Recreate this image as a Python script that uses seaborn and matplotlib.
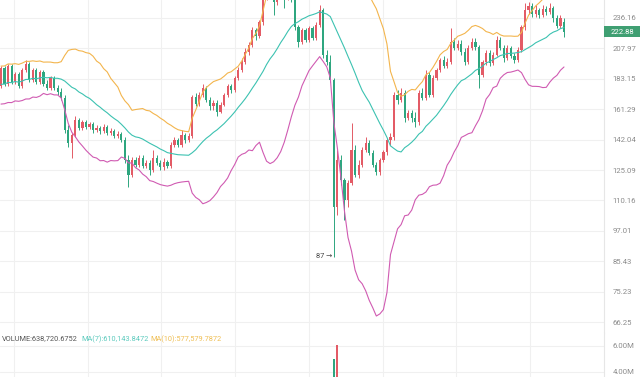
import numpy as np
import pandas as pd
import matplotlib
matplotlib.use("Agg")
import matplotlib.pyplot as plt
from matplotlib.ticker import FixedLocator, NullLocator, NullFormatter
from matplotlib.patches import Rectangle
import seaborn as sns

# ---------------- data ----------------
# closes before the first visible candle (only used to warm up the BOLL(20,2) bands)
pre_close = [176.0, 168.5, 183.2, 171.0, 186.4, 174.2, 170.1, 181.8, 172.5, 188.0,
             175.4, 169.8, 184.6, 177.3, 190.2, 173.6, 182.0, 176.8, 186.5]

opens = [177.8, 191.6, 179.3, 193.3, 180.8, 186.9, 177.8, 190.1, 194.9, 182.3,
         190.1, 180.8, 188.5, 179.3, 176.3, 183.8, 176.3, 173.4, 169.1, 147.9,
         140.1, 144.9, 154.2, 149.2, 153.0, 149.8, 151.7, 147.9, 149.2, 147.3,
         149.8, 146.1, 147.3, 144.3, 145.5, 141.9, 130.5, 122.6, 130.5, 127.8,
         131.6, 127.3, 128.9, 125.2, 131.6, 128.9, 126.7, 129.4, 127.3, 139.0,
         141.9, 139.0, 144.9, 141.9, 144.3, 169.8, 164.9, 171.2, 176.3, 167.7,
         163.5, 165.6, 159.5, 164.2, 171.2, 177.8, 174.8, 183.8, 190.1, 196.5,
         204.9, 211.0, 224.6, 219.0, 232.2, 260.0, 274.5, 265.5, 252.5, 263.3,
         271.1, 260.0, 267.7, 257.8, 227.4, 213.6, 224.6, 215.4, 226.5, 217.2,
         229.3, 244.2, 202.3, 196.5, 182.3, 107.2, 130.5, 120.0, 110.4, 118.6,
         136.1, 122.6, 127.8, 136.1, 140.1, 134.4, 127.8, 124.1, 130.5, 134.9,
         141.9, 143.7, 171.2, 167.7, 172.7, 155.5, 158.8, 155.5, 153.0, 172.7,
         169.1, 186.1, 171.2, 183.8, 190.1, 198.2, 193.3, 196.5, 213.6, 208.3,
         211.8, 204.9, 196.5, 208.3, 213.6, 209.2, 186.1, 196.5, 204.0, 195.7,
         202.3, 215.4, 208.3, 199.8, 208.3, 201.5, 198.2, 206.6, 227.4, 244.2,
         248.3, 240.1, 244.2, 239.1, 245.2, 242.1, 246.2, 236.2, 228.4, 232.2]

highs = [193.3, 193.3, 194.9, 194.9, 188.5, 188.5, 191.6, 198.2, 196.5, 191.6,
         191.6, 190.1, 190.1, 182.3, 185.4, 185.4, 178.5, 176.3, 171.2, 151.1,
         146.1, 156.8, 155.5, 154.2, 154.2, 153.0, 153.0, 151.1, 150.4, 151.7,
         151.1, 149.2, 148.6, 147.3, 146.7, 143.7, 133.3, 132.2, 132.2, 133.3,
         133.3, 130.5, 130.5, 136.1, 133.3, 130.5, 131.6, 130.5, 140.7, 143.7,
         143.1, 147.9, 146.1, 146.1, 171.2, 172.7, 173.4, 179.3, 177.8, 169.8,
         167.7, 167.7, 166.3, 172.7, 179.3, 179.3, 185.4, 192.4, 199.8, 208.3,
         213.6, 227.4, 226.5, 234.2, 263.3, 276.8, 276.8, 267.7, 265.5, 274.5,
         274.5, 271.1, 271.1, 260.0, 229.3, 226.5, 226.5, 228.4, 228.4, 232.2,
         249.3, 246.2, 206.6, 202.3, 183.8, 136.1, 133.3, 121.1, 120.0, 152.3,
         139.0, 130.5, 137.8, 143.7, 141.9, 136.1, 129.4, 131.6, 136.1, 143.1,
         146.1, 173.4, 174.8, 176.3, 174.8, 160.8, 160.8, 159.5, 174.8, 176.3,
         190.1, 188.5, 186.1, 191.6, 199.8, 201.5, 199.8, 226.5, 217.2, 215.4,
         215.4, 208.3, 211.0, 217.2, 217.2, 211.0, 198.2, 206.6, 206.6, 204.9,
         219.0, 218.1, 211.0, 211.0, 210.1, 204.0, 209.2, 229.3, 251.4, 252.5,
         251.4, 249.3, 246.2, 249.3, 248.3, 251.4, 248.3, 239.1, 239.1, 236.2]

lows = [176.3, 177.8, 177.8, 179.3, 179.3, 176.3, 176.3, 188.5, 180.8, 180.8,
        179.3, 179.3, 177.8, 174.8, 174.8, 174.8, 171.2, 167.7, 146.1, 137.8,
        131.6, 143.7, 147.9, 147.9, 148.6, 148.6, 146.1, 146.7, 145.5, 146.1,
        144.9, 144.9, 143.1, 143.1, 140.7, 128.9, 116.6, 121.6, 126.7, 126.7,
        126.2, 126.2, 122.6, 124.1, 127.8, 125.2, 125.2, 126.2, 126.2, 137.8,
        137.8, 137.8, 140.1, 140.7, 143.1, 163.5, 163.5, 169.8, 166.3, 160.8,
        160.8, 156.8, 158.8, 163.5, 169.8, 172.7, 173.4, 182.3, 188.5, 194.9,
        202.3, 209.2, 215.4, 217.2, 229.3, 254.6, 260.0, 239.1, 249.3, 257.8,
        246.2, 254.6, 252.5, 224.6, 209.2, 211.8, 213.6, 213.6, 215.4, 215.4,
        227.4, 199.8, 194.1, 180.8, 87.0, 103.6, 117.6, 101.5, 107.2, 117.6,
        121.6, 121.1, 126.7, 134.9, 133.3, 126.7, 122.6, 122.6, 129.4, 133.3,
        139.0, 141.9, 164.9, 166.3, 153.0, 154.2, 153.0, 149.8, 151.1, 167.7,
        167.7, 169.8, 169.8, 182.3, 188.5, 191.6, 191.6, 194.9, 206.6, 206.6,
        202.3, 194.1, 194.9, 206.6, 206.6, 176.3, 184.6, 194.1, 193.3, 194.1,
        201.5, 206.6, 196.5, 198.2, 199.8, 195.7, 196.5, 204.9, 224.6, 240.1,
        237.1, 237.1, 236.2, 237.1, 239.1, 240.1, 232.2, 226.5, 226.5, 218.1]

closes = [191.6, 179.3, 193.3, 180.8, 186.9, 177.8, 190.1, 194.9, 182.3, 190.1,
          180.8, 188.5, 179.3, 176.3, 183.8, 176.3, 173.4, 169.1, 147.9, 140.1,
          144.9, 154.2, 149.2, 153.0, 149.8, 151.7, 147.9, 149.2, 147.3, 149.8,
          146.1, 147.3, 144.3, 145.5, 141.9, 130.5, 122.6, 130.5, 127.8, 131.6,
          127.3, 128.9, 125.2, 131.6, 128.9, 126.7, 129.4, 127.3, 139.0, 141.9,
          139.0, 144.9, 141.9, 144.3, 169.8, 164.9, 171.2, 176.3, 167.7, 163.5,
          165.6, 159.5, 164.2, 171.2, 177.8, 174.8, 183.8, 190.1, 196.5, 204.9,
          211.0, 224.6, 219.0, 232.2, 260.0, 274.5, 265.5, 252.5, 263.3, 271.1,
          260.0, 267.7, 257.8, 227.4, 213.6, 224.6, 215.4, 226.5, 217.2, 229.3,
          244.2, 202.3, 196.5, 182.3, 107.2, 130.5, 120.0, 110.4, 118.6, 136.1,
          122.6, 127.8, 136.1, 140.1, 134.4, 127.8, 124.1, 130.5, 134.9, 141.9,
          143.7, 171.2, 167.7, 172.7, 155.5, 158.8, 155.5, 153.0, 172.7, 169.1,
          186.1, 171.2, 183.8, 190.1, 198.2, 193.3, 196.5, 213.6, 208.3, 211.8,
          204.9, 196.5, 208.3, 213.6, 209.2, 186.1, 196.5, 204.0, 195.7, 202.3,
          215.4, 208.3, 199.8, 208.3, 201.5, 198.2, 206.6, 227.4, 244.2, 248.3,
          240.1, 244.2, 239.1, 245.2, 242.1, 246.2, 236.2, 228.4, 236.2, 222.88]

# only the volume bars that reach into the visible strip of the volume pane
vol_index = [94, 95, 159]
vol_values = [5.0e6, 6.1e6, 638720.6752]

price_ticks = [66.25, 75.23, 85.43, 97.01, 110.16, 125.09, 142.04, 161.29, 183.15, 207.97, 236.16]
price_tick_labels = ["66.25", "75.23", "85.43", "97.01", "110.16", "125.09", "142.04",
                     "161.29", "183.15", "207.97", "236.16"]
vol_ticks = [4.0e6, 6.0e6]
vol_tick_labels = ["4.00M", "6.00M"]
last_price = 222.88
last_price_label = "222.88"
header_parts = ["VOLUME:638,720.6752", "MA(7):610,143.8472", "MA(10):577,579.7872"]

# ---------------- style ----------------
sns.set_theme(style="white")
plt.rcParams["font.family"] = ["Roboto", "DejaVu Sans"]

UP = "#e35b66"
DOWN = "#2ea67f"
C_UPPER = "#f3b54d"
C_MID = "#3cc2b1"
C_LOWER = "#d05bb2"
GRID = "#f0f0f0"
TICKC = "#8c8c8c"

W, H = 640, 377
fig = plt.figure(figsize=(W / 100, H / 100), dpi=100, facecolor="white")
ax = fig.add_axes([0, 44 / H, 604 / W, 333 / H])
axv = fig.add_axes([0, -23 / H, 604 / W, 67 / H])

n = len(closes)
idx = np.arange(n)
o = np.array(opens)
c = np.array(closes)
hi = np.array(highs)
lo = np.array(lows)
is_up = c >= o
colors = np.where(is_up, UP, DOWN)

# Bollinger bands (20, 2)
allc = pd.Series(pre_close + closes)
mid = allc.rolling(20).mean()
sd = allc.rolling(20).std(ddof=0)
k = len(pre_close)
bands = pd.DataFrame({
    "i": idx,
    "upper": (mid + 2 * sd).values[k:],
    "mid": mid.values[k:],
    "lower": (mid - 2 * sd).values[k:],
})

ax.set_yscale("log")
ax.set_xlim(-0.28, 170.3)
ax.set_ylim(63.3, 254.6)

# candles
ax.vlines(idx, lo, hi, colors=colors, linewidth=0.7, zorder=2)
ax.bar(idx, np.abs(c - o), bottom=np.minimum(o, c), width=0.62, color=colors,
       linewidth=0, zorder=3)

# bands
sns.lineplot(data=bands, x="i", y="upper", ax=ax, color=C_UPPER, linewidth=0.8, zorder=4)
sns.lineplot(data=bands, x="i", y="mid", ax=ax, color=C_MID, linewidth=0.8, zorder=4)
sns.lineplot(data=bands, x="i", y="lower", ax=ax, color=C_LOWER, linewidth=0.8, zorder=4)

# grid / axes cosmetics
grid_x = [3.67, 24.49, 45.31, 66.13, 86.95, 107.77, 128.59, 149.41]
for a in (ax, axv):
    a.set_facecolor("white")
    a.xaxis.set_major_locator(FixedLocator(grid_x))
    a.tick_params(axis="x", length=0, labelbottom=False)
    a.grid(True, color=GRID, linewidth=0.8)
    a.set_axisbelow(True)
    a.set_xlabel("")
    a.set_ylabel("")
    for s in ("left", "top", "bottom"):
        a.spines[s].set_visible(False)
    a.spines["right"].set_color("#e6e6e6")
    a.spines["right"].set_linewidth(0.8)

ax.yaxis.set_major_locator(FixedLocator(price_ticks))
ax.yaxis.set_minor_locator(NullLocator())
ax.yaxis.set_minor_formatter(NullFormatter())
ax.set_yticklabels(price_tick_labels)
ax.yaxis.tick_right()
ax.tick_params(axis="y", length=0, pad=6, labelsize=5.6, labelcolor=TICKC)

# low annotation
i_low = int(np.argmin(lo))
ax.annotate(f"{lo[i_low]:g} \u2192", xy=(i_low - 0.45, lo[i_low]), xytext=(0, 0),
            textcoords="offset points", ha="right", va="center", fontsize=5.3,
            color="#444444", family=["Roboto", "DejaVu Sans"])

# volume pane
axv.set_xlim(-0.28, 170.3)
axv.set_ylim(1.846e6, 7.0e6)
vcol = [UP if closes[i] >= opens[i] else DOWN for i in vol_index]
axv.bar(vol_index, vol_values, width=0.62, color=vcol, linewidth=0, zorder=3)
axv.yaxis.set_major_locator(FixedLocator(vol_ticks))
axv.set_yticklabels(vol_tick_labels)
axv.yaxis.tick_right()
axv.tick_params(axis="y", length=0, pad=6, labelsize=5.6, labelcolor=TICKC)

# header of volume pane
hx = [2 / W, 81 / W, 150 / W]
hc = ["#555555", "#5ccabd", "#efbf55"]
for x, t, col in zip(hx, header_parts, hc):
    fig.text(x, 1 - 339 / H, t, color=col, fontsize=5.3, va="center", ha="left")

# last price box
yc = ax.transData.transform((0, last_price))[1] / fig.bbox.height
fig.patches.append(Rectangle((604 / W, yc - 5.5 / H), 36 / W, 11 / H,
                             transform=fig.transFigure, facecolor="#3f9f72",
                             edgecolor="none", zorder=5))
fig.text(611 / W, yc, last_price_label, color="white", fontsize=5.6, va="center",
         ha="left", zorder=6)

fig.savefig("out.png", dpi=100, facecolor="white")
